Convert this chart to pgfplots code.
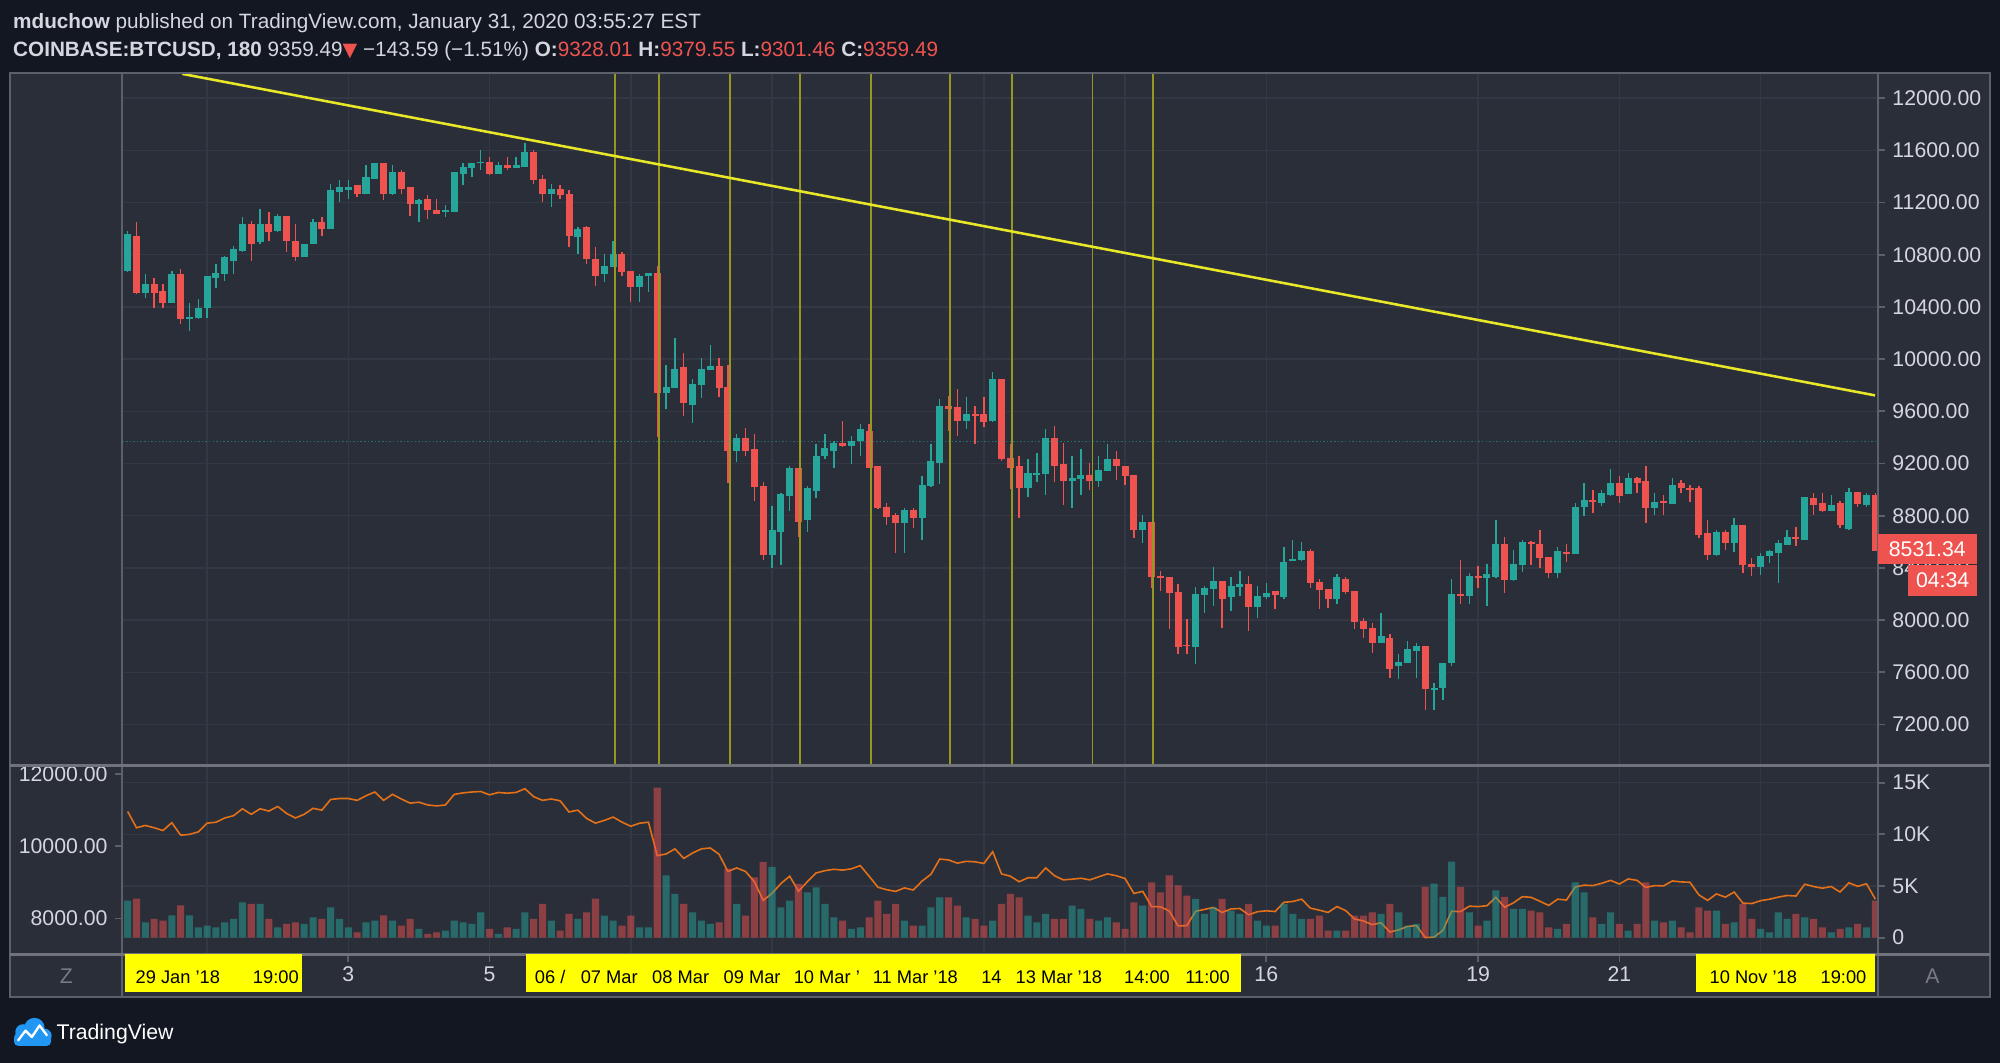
\documentclass[border=0pt]{standalone}
\usepackage{pgfplots}
\pgfplotsset{compat=1.18}
\usepackage{pgfplotstable}
\usepackage{fontspec}
\setmainfont{Liberation Sans}
\newfontfamily\dejavu{DejaVu Sans}
\definecolor{outerbg}{RGB}{19,23,34}
\definecolor{panebg}{RGB}{42,46,57}
\definecolor{gridc}{RGB}{52,56,68}
\definecolor{framec}{RGB}{92,96,106}
\definecolor{sepc}{RGB}{112,115,124}
\definecolor{tvG}{RGB}{38,166,154}
\definecolor{tvR}{RGB}{239,83,80}
\definecolor{txt}{RGB}{212,215,222}
\definecolor{grayt}{RGB}{120,123,134}
\definecolor{vline}{RGB}{150,150,32}
\definecolor{trend}{RGB}{232,232,40}
\definecolor{orangeL}{RGB}{228,112,24}
\definecolor{tvBlue}{RGB}{33,150,243}
\definecolor{tyel}{RGB}{255,255,0}

\pgfplotstableread{
i o h l c v
0 10676 10985 10666 10960 3581
1 10947 11049 10500 10510 3774
2 10510 10650 10471 10574 1484
3 10574 10625 10395 10510 1807
4 10523 10574 10395 10433 1645
5 10433 10676 10433 10650 2161
6 10650 10689 10267 10305 3129
7 10305 10428 10216 10326 2161
8 10313 10459 10305 10395 1000
9 10395 10638 10318 10638 1161
10 10620 10727 10548 10663 1000
11 10653 10793 10602 10781 1484
12 10755 10870 10653 10845 1807
13 10832 11087 10819 11036 3420
14 11036 11062 10755 10883 3258
15 10896 11154 10883 11036 3258
16 11036 11128 10908 10972 1807
17 10985 11113 10972 11100 1000
18 11100 11100 10819 10908 1323
19 10908 11036 10755 10781 1484
20 10781 10883 10781 10883 1323
21 10883 11074 10883 11049 1968
22 11049 11087 10947 10998 1807
23 10998 11345 10998 11294 2936
24 11281 11371 11205 11320 1807
25 11294 11371 11230 11320 1000
26 11333 11333 11243 11269 516
27 11269 11486 11269 11396 1484
28 11384 11501 11384 11501 1645
29 11501 11501 11218 11269 2161
30 11269 11486 11256 11435 1645
31 11435 11448 11269 11307 1161
32 11320 11320 11100 11192 1807
33 11192 11230 11049 11218 839
34 11230 11256 11074 11141 355
35 11141 11230 11115 11115 516
36 11128 11179 11087 11141 677
37 11128 11435 11128 11435 1645
38 11422 11501 11333 11476 1484
39 11463 11501 11396 11501 1323
40 11501 11603 11450 11514 2452
41 11514 11552 11409 11422 839
42 11422 11514 11422 11488 355
43 11488 11552 11450 11468 1000
44 11468 11552 11468 11488 839
45 11476 11654 11476 11591 2452
46 11591 11603 11345 11371 1807
47 11384 11409 11205 11269 3258
48 11269 11345 11166 11307 1645
49 11307 11333 11230 11256 677
50 11269 11294 10857 10947 2290
51 10934 11011 10806 10998 1807
52 11011 11023 10730 10768 2452
53 10768 10857 10561 10638 3774
54 10653 10806 10589 10714 2129
55 10709 10908 10709 10806 1645
56 10806 10819 10640 10666 1161
57 10676 10676 10436 10551 2129
58 10551 10653 10436 10637 1000
59 10637 10663 10512 10663 1000
60 10663 10714 9401 9738 14517
61 9738 9955 9618 9784 6033
62 9776 10160 9776 9925 4226
63 9937 10045 9567 9661 3258
64 9649 9848 9508 9810 2452
65 9802 10006 9700 9925 1645
66 9917 10109 9917 9950 1323
67 9950 10006 9713 9776 1484
68 9784 9955 9053 9299 6678
69 9299 9424 9209 9398 3258
70 9398 9475 9260 9299 2129
71 9309 9424 8913 9018 5839
72 9028 9061 8461 8499 7323
73 8499 8875 8397 8691 6839
74 8678 8977 8422 8964 2936
75 8951 9181 8836 9168 3581
76 9168 9168 8639 8754 5194
77 8767 9028 8678 9015 4387
78 8989 9347 8938 9258 4871
79 9258 9424 9232 9322 3258
80 9299 9373 9168 9360 1968
81 9355 9526 9324 9337 1645
82 9337 9411 9194 9373 839
83 9373 9500 9258 9462 1000
84 9449 9500 9168 9168 1968
85 9181 9181 8849 8862 3581
86 8869 8895 8729 8793 2290
87 8805 8818 8512 8747 3258
88 8747 8857 8512 8844 1645
89 8844 8862 8703 8785 1161
90 8785 9104 8614 9035 1161
91 9028 9347 9023 9219 2936
92 9207 9695 9041 9644 3903
93 9644 9720 9452 9618 3903
94 9631 9771 9414 9529 3097
95 9529 9707 9465 9580 1968
96 9580 9644 9350 9567 1807
97 9580 9707 9477 9521 1161
98 9529 9899 9516 9848 1645
99 9848 9848 9219 9232 3258
100 9245 9347 9002 9168 4226
101 9181 9258 8780 9015 3903
102 9015 9232 8946 9125 2129
103 9112 9283 9061 9125 1484
104 9117 9462 8959 9398 2290
105 9398 9488 9061 9181 1807
106 9194 9360 8882 9066 1807
107 9066 9258 8857 9086 3097
108 9079 9309 8959 9112 2774
109 9112 9207 8997 9066 1807
110 9066 9258 9023 9150 1645
111 9143 9347 9143 9232 1968
112 9232 9296 9074 9181 1484
113 9181 9181 9035 9104 839
114 9112 9112 8627 8690 3420
115 8690 8805 8588 8749 3097
116 8749 8749 8248 8328 5355
117 8338 8379 8225 8320 4387
118 8328 8328 7929 8205 6033
119 8213 8277 7737 7791 5065
120 7812 8006 7737 7799 4065
121 7791 8256 7661 8197 3742
122 8190 8261 8057 8248 2290
123 8241 8404 8108 8302 2936
124 8302 8302 7942 8164 3742
125 8177 8328 8072 8261 2613
126 8254 8379 8185 8274 2290
127 8274 8338 7916 8100 3258
128 8100 8261 8018 8185 1645
129 8177 8287 8164 8210 1161
130 8223 8223 8082 8190 1161
131 8177 8558 8164 8445 3258
132 8450 8611 8450 8468 2290
133 8458 8596 8450 8532 1807
134 8532 8545 8248 8282 1807
135 8289 8315 8082 8228 2129
136 8236 8236 8095 8164 677
137 8164 8353 8123 8328 677
138 8315 8328 8200 8213 677
139 8225 8225 7929 7983 2129
140 7993 8018 7865 7929 2129
141 7942 7980 7750 7827 2452
142 7827 8057 7827 7878 2290
143 7865 7891 7559 7622 3258
144 7648 7737 7546 7681 2452
145 7668 7840 7668 7776 1161
146 7763 7827 7559 7801 1323
147 7801 7801 7311 7469 4903
148 7466 7520 7311 7480 5226
149 7477 7668 7387 7668 3936
150 7668 8312 7648 8197 7355
151 8197 8461 8121 8185 4903
152 8185 8364 8121 8338 2452
153 8338 8415 8243 8326 1161
154 8320 8427 8108 8351 1645
155 8333 8767 8320 8583 4581
156 8583 8634 8205 8307 3936
157 8307 8537 8300 8430 2774
158 8422 8614 8371 8601 2774
159 8596 8609 8422 8583 2613
160 8583 8691 8397 8473 2452
161 8486 8486 8320 8358 1000
162 8358 8558 8320 8532 839
163 8521 8583 8448 8508 1323
164 8507 8895 8507 8869 5355
165 8864 9053 8798 8920 4387
166 8920 8997 8823 8908 1968
167 8900 8997 8875 8972 1323
168 8959 9156 8951 9053 2452
169 9048 9104 8900 8951 1323
170 8964 9125 8964 9092 677
171 9092 9099 8972 9053 1323
172 9066 9181 8742 8857 5355
173 8862 8977 8806 8908 1645
174 8913 8959 8806 8900 1484
175 8887 9092 8887 9036 1645
176 9048 9074 8977 9010 1000
177 9012 9036 8908 8999 516
178 9015 9028 8627 8652 2936
179 8665 8767 8461 8499 2613
180 8499 8691 8491 8678 2613
181 8678 8691 8537 8588 1323
182 8588 8780 8524 8729 1484
183 8729 8729 8364 8422 3258
184 8427 8473 8338 8410 1807
185 8410 8517 8346 8491 839
186 8491 8537 8435 8530 516
187 8512 8614 8282 8588 2452
188 8576 8691 8576 8634 1807
189 8634 8716 8568 8619 2290
190 8614 8946 8614 8946 1968
191 8933 8972 8806 8882 1807
192 8895 8972 8831 8836 1000
193 8836 8959 8836 8882 516
194 8895 8915 8703 8729 839
195 8696 9010 8691 8984 1000
196 8984 8984 8864 8887 1323
197 8882 8972 8869 8959 1000
198 8959 8972 8531 8531 3581
}\candles

\pgfplotsset{
  tvbase/.style={anchor=south west, scale only axis, width=825.6bp,
    xmin=-0.592, xmax=198.25, axis line style={draw=none},
    scaled x ticks=false, scaled y ticks=false,
    tick label style={font=\fontsize{10bp}{12bp}\selectfont, text=txt},
    tick align=outside, major tick length=3.5bp},
  upc/.style={restrict expr to domain={\thisrow{c}-\thisrow{o}}{0:100000}},
  dnc/.style={restrict expr to domain={\thisrow{c}-\thisrow{o}}{-100000:0}},
  candle/.style={draw=none, no marks, forget plot},
}

\begin{document}
\begin{tikzpicture}[x=0.6bp,y=0.6bp,font=\fontsize{10bp}{12bp}\selectfont]
\fill[outerbg] (0,0) rectangle (1568,833);
\useasboundingbox (0,0) rectangle (1568,833);
\fill[panebg] (8,51) rectangle (1560,776);

% ---------------- main price pane
\begin{axis}[tvbase, at={(57.6bp,139.8bp)}, height=325.8bp,
  ymin=6887, ymax=12195,
  xtick={9,25,41,57,73,97,113,129,153,169,185}, xticklabels={},
  xtick style={draw=none},
  xmajorgrids, ymajorgrids, grid style={gridc, line width=0.7bp},
  ytick={7200,7600,...,12000},
  yticklabels={7200.00,7600.00,8000.00,8400.00,8800.00,9200.00,9600.00,10000.00,10400.00,10800.00,11200.00,11600.00,12000.00},
  ytick pos=right, yticklabel pos=right,
  ytick style={draw=framec, line width=0.8bp},
  yticklabel style={anchor=west},
]
\addplot[candle, upc, error bars/.cd, y dir=both, y explicit, error mark=none,
  error bar style={draw=tvG, line width=0.65bp, solid}]
  table[x=i, y expr={(\thisrow{h}+\thisrow{l})/2}, y error expr={(\thisrow{h}-\thisrow{l})/2}]{\candles};
\addplot[candle, dnc, error bars/.cd, y dir=both, y explicit, error mark=none,
  error bar style={draw=tvR, line width=0.65bp, solid}]
  table[x=i, y expr={(\thisrow{h}+\thisrow{l})/2}, y error expr={(\thisrow{h}-\thisrow{l})/2}]{\candles};
\addplot[candle, upc, error bars/.cd, y dir=both, y explicit, error mark=none,
  error bar style={draw=tvG, line width=3.3bp, solid}]
  table[x=i, y expr={(\thisrow{o}+\thisrow{c})/2}, y error expr={abs(\thisrow{c}-\thisrow{o})/2}]{\candles};
\addplot[candle, dnc, error bars/.cd, y dir=both, y explicit, error mark=none,
  error bar style={draw=tvR, line width=3.3bp, solid}]
  table[x=i, y expr={(\thisrow{o}+\thisrow{c})/2}, y error expr={abs(\thisrow{c}-\thisrow{o})/2}]{\candles};
% vertical markers
\addplot[vline, line width=0.8bp] coordinates {(55.2,6800) (55.2,12300)};
\addplot[vline, line width=0.8bp] coordinates {(60.2,6800) (60.2,12300)};
\addplot[vline, line width=0.8bp] coordinates {(68.2,6800) (68.2,12300)};
\addplot[vline, line width=0.8bp] coordinates {(76.2,6800) (76.2,12300)};
\addplot[vline, line width=0.8bp] coordinates {(84.2,6800) (84.2,12300)};
\addplot[vline, line width=0.8bp] coordinates {(93.2,6800) (93.2,12300)};
\addplot[vline, line width=0.8bp] coordinates {(100.15,6800) (100.15,12300)};
\addplot[vline, line width=0.8bp] coordinates {(109.3,6800) (109.3,12300)};
\addplot[vline, line width=0.8bp] coordinates {(116.15,6800) (116.15,12300)};
% price line
\addplot[tvG, opacity=0.55, densely dotted, line width=0.7bp] coordinates {(-1,9370) (200,9370)};
% trend line
\addplot[trend, line width=1.2bp] coordinates {(6.2,12185.7) (197.96,9722)};
\end{axis}

% ---------------- volume pane: grid + right scale + time labels
\begin{axis}[tvbase, at={(57.6bp,51bp)}, height=88.8bp,
  ymin=-1590, ymax=16680,
  xtick={9,25,41,57,73,97,113,129,153,169,185},
  xticklabels={,3,5,,,,,16,19,21,},
  xtick pos=left, xticklabel pos=left,
  xtick style={draw=framec, line width=0.8bp},
  xticklabel style={anchor=base, yshift=-9.5bp},
  extra x ticks={93.2,109.3}, extra x tick labels={}, extra x tick style={grid=none},
  xmajorgrids, ymajorgrids, grid style={gridc, line width=0.7bp},
  ytick={0,5000,10000,15000}, yticklabels={0,5K,10K,15K},
  ytick pos=right, yticklabel pos=right,
  ytick style={draw=framec, line width=0.8bp},
  yticklabel style={anchor=west},
]
\end{axis}

% ---------------- volume pane: price line, left scale
\begin{axis}[tvbase, at={(57.6bp,51bp)}, height=88.8bp,
  ymin=7011, ymax=12240, xtick=\empty,
  ytick={8000,10000,12000}, yticklabels={8000.00,10000.00,12000.00},
  ytick pos=left, yticklabel pos=left,
  ytick style={draw=framec, line width=0.8bp},
  yticklabel style={anchor=east},
]
\addplot[orangeL, line width=0.75bp] table[x=i, y=c]{\candles};
\end{axis}

% ---------------- volume bars
\begin{axis}[tvbase, at={(57.6bp,51bp)}, height=88.8bp,
  ymin=-1590, ymax=16680, hide axis]
\addplot[ybar, bar width=0.8, bar shift=0pt, draw=none, fill=tvG, fill opacity=0.5, upc]
  table[x=i, y=v]{\candles};
\addplot[ybar, bar width=0.8, bar shift=0pt, draw=none, fill=tvR, fill opacity=0.5, dnc]
  table[x=i, y=v]{\candles};
\end{axis}

% ---------------- frame
\draw[framec, line width=0.9bp] (8,51) rectangle (1560,776);
\draw[framec, line width=0.9bp] (96,51) -- (96,776);
\draw[framec, line width=0.9bp] (1472,51) -- (1472,776);
\draw[sepc, line width=1.4bp] (8,233) -- (1560,233);
\draw[sepc, line width=1.4bp] (8,85) -- (1560,85);

% ---------------- time axis yellow labels
\fill[tyel] (98,55) rectangle (237,85);
\fill[tyel] (412,55) rectangle (973,85);
\fill[tyel] (1330,55) rectangle (1470,85);
\begin{scope}[every node/.style={anchor=base west, inner sep=0pt, text=black,
   font=\fontsize{8.6bp}{10bp}\selectfont}]
\node at (106,62) {29 Jan '18};
\node at (198,62) {19:00};
\node at (419,62) {06 /};
\node at (455,62) {07 Mar};
\node at (511,62) {08 Mar};
\node at (567,62) {09 Mar};
\node at (622,62) {10 Mar '};
\node at (684,62) {11 Mar '18};
\node at (769,62) {14};
\node at (796,62) {13 Mar '18};
\node at (881,62) {14:00};
\node at (929,62) {11:00};
\node at (1340,62) {10 Nov '18};
\node at (1427,62) {19:00};
\end{scope}
\node[text=grayt] at (52,68) {Z};
\node[text=grayt] at (1515,68) {A};

% ---------------- price labels on the scale
\fill[tvR] (1472,391) rectangle (1550,414);
\node[text=white] at (1511,402.5) {8531.34};
\fill[tvR] (1496,366) rectangle (1550,390);
\node[text=white] at (1523,378) {04:34};

% ---------------- header
\begin{scope}[every node/.style={anchor=base west, inner sep=0pt, text=txt,
   font=\fontsize{9.75bp}{11.5bp}\selectfont}]
\node at (10,811)
  {\textbf{mduchow} published on TradingView.com, January 31, 2020 03:55:27 EST};
\node at (10,789)
  {\textbf{COINBASE:BTCUSD, 180} 9359.49{\color{tvR}\dejavu\fontsize{9bp}{10bp}\selectfont ▼} −143.59 (−1.51\%) \textbf{O:}{\color{tvR}9328.01} \textbf{H:}{\color{tvR}9379.55} \textbf{L:}{\color{tvR}9301.46} \textbf{C:}{\color{tvR}9359.49}};
\end{scope}

% ---------------- logo
\fill[tvBlue] (18,24) circle (6);
\fill[tvBlue] (27,27) circle (8);
\fill[tvBlue] (35,21) circle (5.5);
\fill[tvBlue, rounded corners=2] (11,13) rectangle (40,23);
\draw[white, line width=1.1bp, line join=round] (14,17) -- (20,25) -- (25,20) -- (31,29) -- (37,21);
\node[anchor=base west, inner sep=0pt, text=white] at (44,18) {TradingView};
\end{tikzpicture}
\end{document}
